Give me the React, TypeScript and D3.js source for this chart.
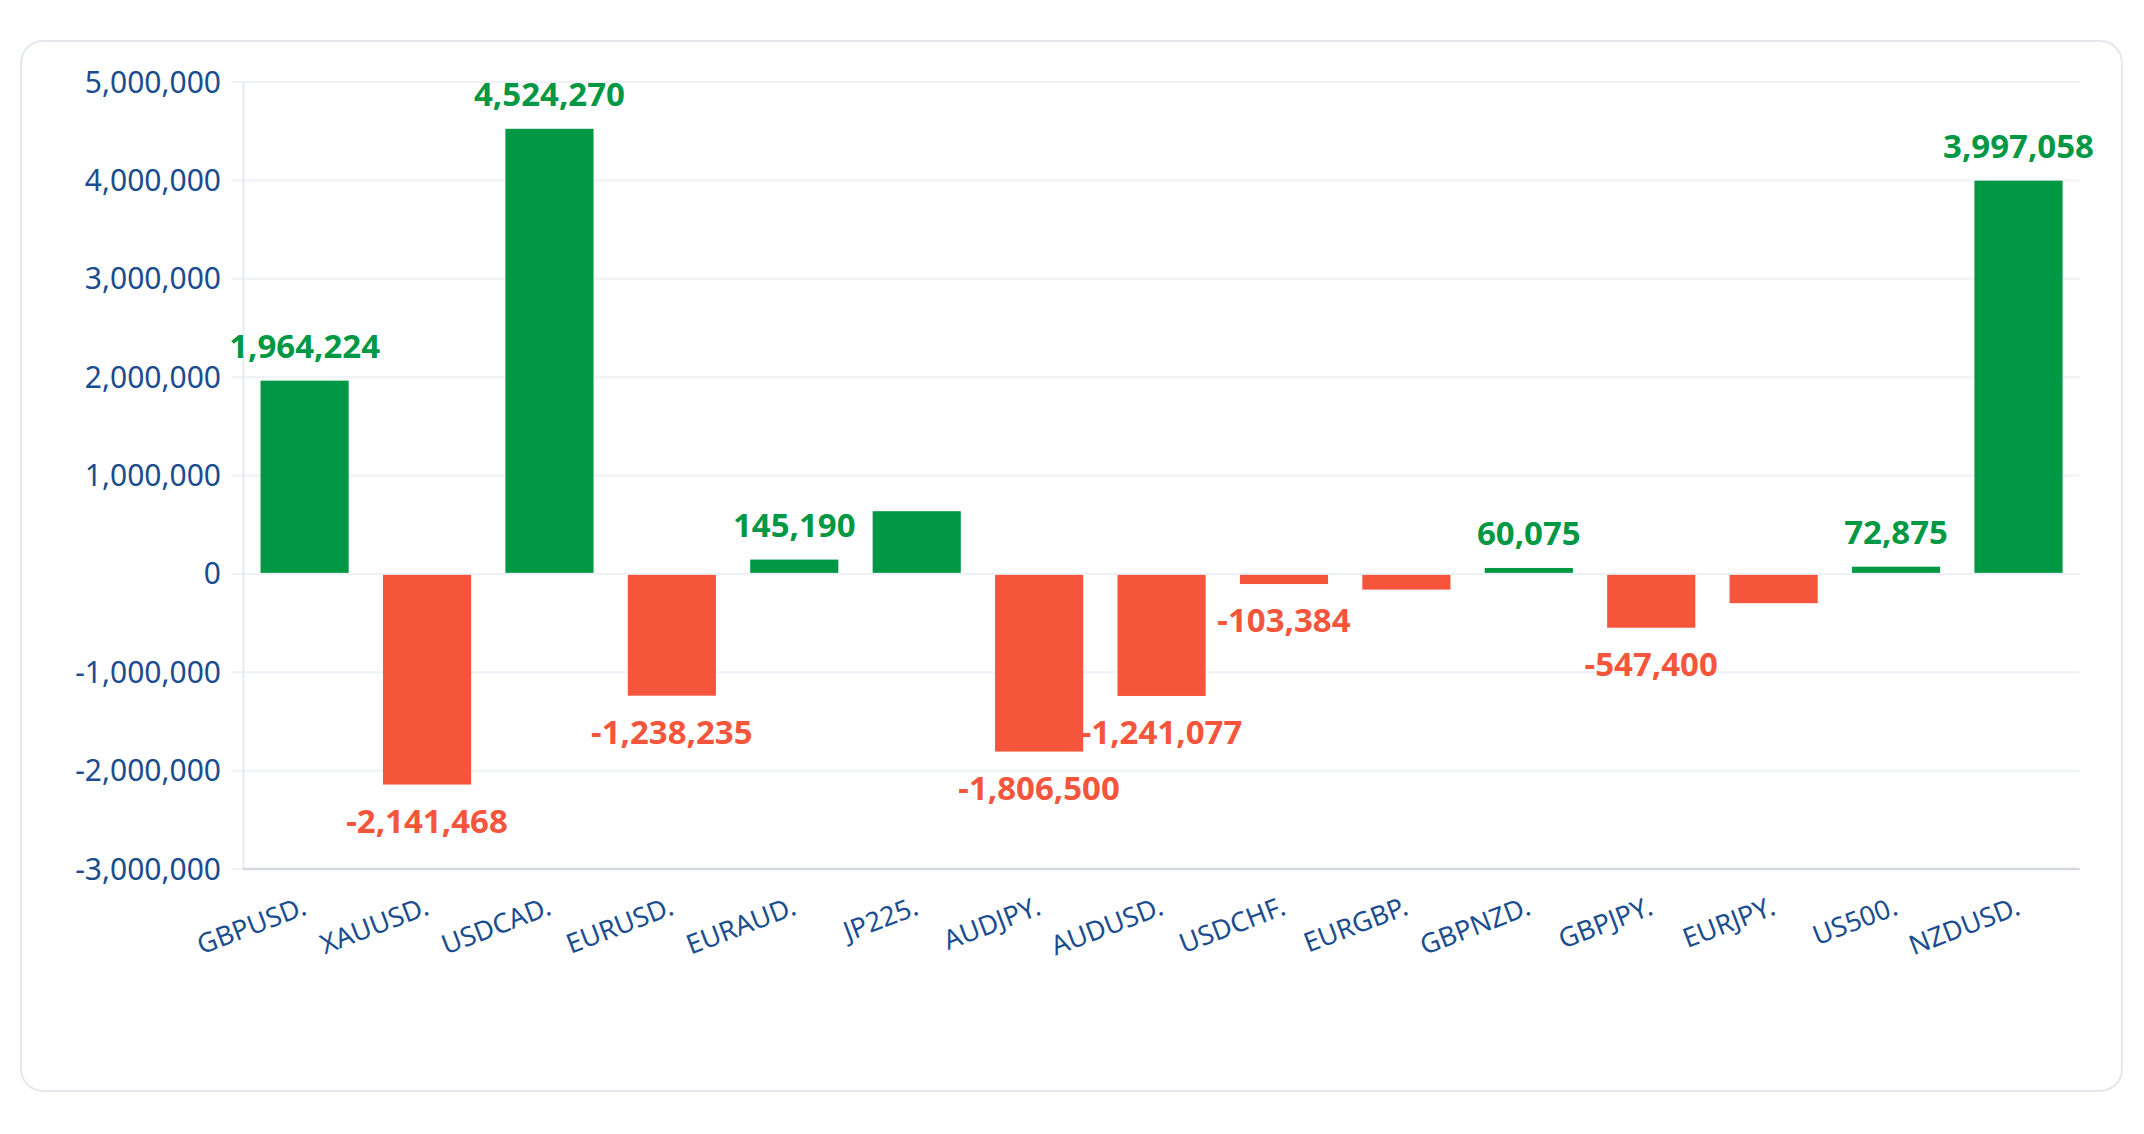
import React from "react";
import * as d3 from "d3";

const categories = [
  "GBPUSD.", "XAUUSD.", "USDCAD.", "EURUSD.", "EURAUD.", "JP225.", "AUDJPY.", "AUDUSD.",
  "USDCHF.", "EURGBP.", "GBPNZD.", "GBPJPY.", "EURJPY.", "US500.", "NZDUSD.",
];
const values = [
  1964224, -2141468, 4524270, -1238235, 145190, 637000, -1806500, -1241077,
  -103384, -160000, 60075, -547400, -298000, 72875, 3997058,
];
const unlabeled = ["JP225.", "EURGBP.", "EURJPY."];
const yTicks = [5000000, 4000000, 3000000, 2000000, 1000000, 0, -1000000, -2000000, -3000000];

const W = 2144;
const H = 1134;
const FONT = "'Noto Sans', 'Open Sans', sans-serif";
const GREEN = "#009844";
const RED = "#f5553b";
const AXIS_TEXT = "#1a4d8f";

const fmt0 = d3.format(",");
const fmt = (v: number) => fmt0(v).replace("\u2212", "-");

export default function App() {
  const x = d3.scaleBand<string>().domain(categories).range([243.4, 2079.7]).paddingInner(0.28).paddingOuter(0.14);
  const y = d3.scaleLinear().domain([-3000000, 5000000]).range([869, 82]);
  const x0 = 243.4;
  const x1 = 2079.7;

  return (
    <div style={{ position: "fixed", left: 0, top: 0, width: W, height: H, background: "#fff" }}>
      <svg width={W} height={H} style={{ display: "block" }} fontFamily={FONT}>
        <rect x={21} y={41} width={2101} height={1050} rx={22} ry={22} fill="#fff" stroke="#e3e8ef" strokeWidth={2} />
        {yTicks.map((t) => (
          <g key={t}>
            <line x1={x0 - 12} x2={x1} y1={y(t)} y2={y(t)} stroke="#eef1f6" strokeWidth={2} />
            <text x={221} y={y(t)} dy="0.35em" textAnchor="end" fontSize={30} fill={AXIS_TEXT}>
              {fmt(t)}
            </text>
          </g>
        ))}
        <line x1={x0} x2={x0} y1={82} y2={869} stroke="#e6e9ee" strokeWidth={2} />
        <line x1={x0} x2={x1} y1={869} y2={869} stroke="#d3d8e0" strokeWidth={2.5} />
        {categories.map((c, i) => {
          const v = values[i];
          const top = v >= 0 ? y(v) : y(0) + 1;
          const bottom = v >= 0 ? y(0) - 1 : y(v);
          const bx = x(c)!;
          const bw = x.bandwidth();
          const cx = bx + bw / 2;
          const color = v >= 0 ? GREEN : RED;
          return (
            <g key={c}>
              <rect x={bx} y={top} width={bw} height={Math.max(0, bottom - top)} fill={color} />
              {!unlabeled.includes(c) && (
                <text
                  x={cx}
                  y={v >= 0 ? top - 23 : bottom + 48}
                  textAnchor="middle"
                  fontSize={33}
                  fontWeight={700}
                  fill={color}
                >
                  {fmt(v)}
                </text>
              )}
              <text
                transform={`translate(${cx},${905}) rotate(-21)`}
                textAnchor="end"
                dy="0.35em"
                fontSize={27}
                fill={AXIS_TEXT}
              >
                {c}
              </text>
            </g>
          );
        })}
      </svg>
    </div>
  );
}
